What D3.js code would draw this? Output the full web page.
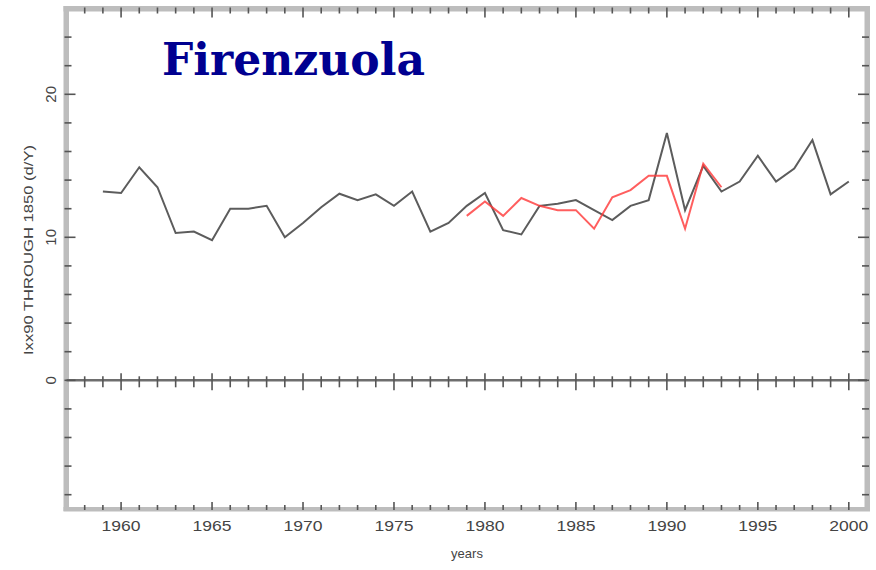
<!DOCTYPE html>
<html>
<head>
<meta charset="utf-8">
<script src="https://cdn.jsdelivr.net/npm/d3@7"></script>
<style>
  html, body { margin: 0; padding: 0; background: #fff; }
  svg { display: block; }
  .lbl { font-family: "Liberation Sans", Arial, sans-serif; }
  .station { font-family: "DejaVu Serif", "Liberation Serif", serif; font-weight: bold; }
</style>
</head>
<body>
<svg id="chart" width="876" height="570"></svg>
<script>
// Station index series (days per year)
const years = d3.range(1959, 2001);
const indexValues = [
  13.2, 13.1, 14.9, 13.5, 10.3, 10.4, 9.8, 12.0, 12.0, 12.2,
  10.0, 11.0, 12.1, 13.05, 12.6, 13.0, 12.2, 13.2, 10.4, 11.0,
  12.2, 13.1, 10.5, 10.2, 12.2, 12.35, 12.6, 11.9, 11.2, 12.2,
  12.6, 17.3, 11.9, 15.0, 13.2, 13.9, 15.7, 13.9, 14.8, 16.8,
  13.0, 13.9
];
// Comparison series, 1979-1993
const compYears = d3.range(1979, 1994);
const compValues = [
  11.5, 12.5, 11.5, 12.75, 12.2, 11.9, 11.9, 10.6, 12.8, 13.3,
  14.3, 14.3, 10.6, 15.15, 13.5
];
const xTicksMajor = [1960, 1965, 1970, 1975, 1980, 1985, 1990, 1995, 2000];
const yTicksMajor = [0, 10, 20];
const yTicksMinor = d3.range(-8, 26, 2);
const xTicksMinor = d3.range(1958, 2001);

const svg = d3.select("#chart");
const x = d3.scaleLinear().domain([1957, 2001]).range([66.5, 867]);
const y = d3.scaleLinear().domain([-9, 26]).range([509, 8.5]);

const band = "#bdbdbd", tickCol = "#555";

// frame bands
const x0 = x(1957), x1 = x(2001), yT = y(26), yB = y(-9);
svg.append("rect").attr("x", x0 - 3).attr("y", yT - 2.5).attr("width", x1 - x0 + 6).attr("height", 5.5).attr("fill", band);
svg.append("rect").attr("x", x0 - 3).attr("y", yB - 2).attr("width", x1 - x0 + 6).attr("height", 4.5).attr("fill", band);
svg.append("rect").attr("x", x0 - 3).attr("y", yT - 2.5).attr("width", 5.5).attr("height", yB - yT + 4.5).attr("fill", band);
svg.append("rect").attr("x", x1 - 2.5).attr("y", yT - 2.5).attr("width", 5.5).attr("height", yB - yT + 4.5).attr("fill", band);

// zero line
svg.append("line").attr("x1", x0).attr("x2", x1).attr("y1", y(0)).attr("y2", y(0))
  .attr("stroke", "#6e6e6e").attr("stroke-width", 2.5);

const ticks = svg.append("g").attr("stroke", tickCol).attr("stroke-width", 1.6);
// x ticks on top, bottom and zero line
xTicksMinor.forEach(yr => {
  const major = xTicksMajor.includes(yr);
  const xx = x(yr);
  ticks.append("line").attr("x1", xx).attr("x2", xx).attr("y1", yT - 1).attr("y2", yT + (major ? 9 : 5));
  ticks.append("line").attr("x1", xx).attr("x2", xx).attr("y1", yB + 1).attr("y2", yB - (major ? 7 : 4));
  ticks.append("line").attr("x1", xx).attr("x2", xx).attr("y1", y(0) - (major ? 7 : 4)).attr("y2", y(0) + (major ? 10 : 7));
});
// y ticks on left and right
yTicksMinor.forEach(v => {
  const major = yTicksMajor.includes(v);
  const yy = y(v);
  ticks.append("line").attr("y1", yy).attr("y2", yy).attr("x1", x0 - 2).attr("x2", x0 + (major ? 9 : 5));
  ticks.append("line").attr("y1", yy).attr("y2", yy).attr("x1", x1 + 2).attr("x2", x1 - (major ? 9 : 5));
});

// x tick labels
svg.append("g").selectAll("text").data(xTicksMajor).join("text")
  .attr("class", "lbl")
  .attr("x", d => x(d)).attr("y", 531)
  .attr("text-anchor", "middle").attr("font-size", 15).attr("fill", "#444")
  .attr("textLength", 39).attr("lengthAdjust", "spacingAndGlyphs")
  .text(d => d);

// y tick labels (rotated)
svg.append("g").selectAll("text").data(yTicksMajor).join("text")
  .attr("class", "lbl")
  .attr("transform", d => `translate(56,${y(d)}) rotate(-90)`)
  .attr("text-anchor", "middle").attr("font-size", 15).attr("fill", "#444")
  .text(d => d);

// axis titles
svg.append("text").attr("class", "lbl").attr("x", 467).attr("y", 558).attr("text-anchor", "middle")
  .attr("font-size", 13).attr("fill", "#444").text("years");
svg.append("text").attr("class", "lbl").attr("transform", "translate(33,250) rotate(-90)")
  .attr("text-anchor", "middle").attr("font-size", 12).attr("fill", "#444")
  .attr("textLength", 210).attr("lengthAdjust", "spacingAndGlyphs")
  .text("Ixx90 THROUGH 1850 (d/Y)");

// series lines
const line = d3.line().x(d => x(d[0])).y(d => y(d[1]));
svg.append("path").datum(d3.zip(years, indexValues)).attr("d", line)
  .attr("fill", "none").attr("stroke", "#5c5c5c").attr("stroke-width", 2);
svg.append("path").datum(d3.zip(compYears, compValues)).attr("d", line)
  .attr("fill", "none").attr("stroke", "#ff3a3a").attr("stroke-width", 2).attr("opacity", 0.82);

// station name
svg.append("text").attr("class", "station").attr("x", 162).attr("y", 75)
  .attr("font-size", 44).attr("fill", "#000090")
  .attr("textLength", 263).attr("lengthAdjust", "spacingAndGlyphs")
  .text("Firenzuola");
</script>
</body>
</html>
